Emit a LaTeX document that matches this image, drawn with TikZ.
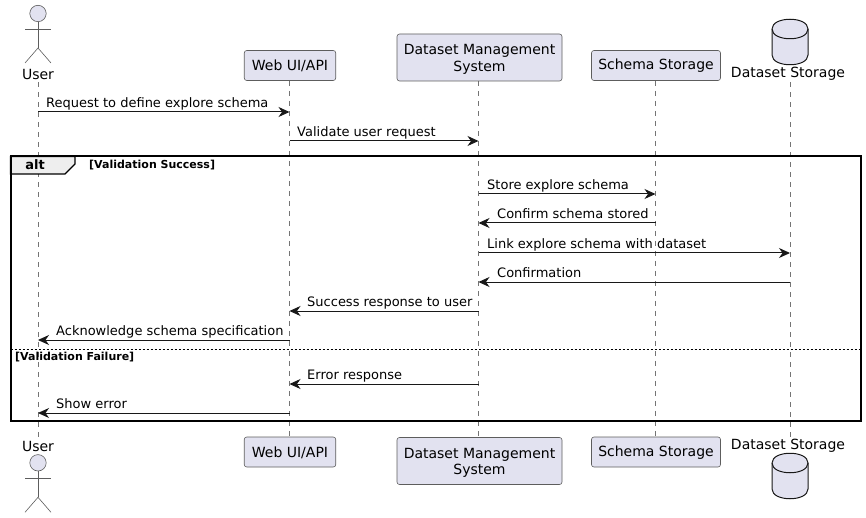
\documentclass[tikz,border=0pt]{standalone}
\usepackage{fontspec}
\setmainfont{DejaVu Sans}
\usetikzlibrary{arrows.meta, positioning, backgrounds}
\definecolor{partfill}{HTML}{E2E2F0}
\definecolor{tabfill}{HTML}{EEEEEE}
\definecolor{edgegray}{HTML}{181818}
\tikzset{
    base/.style={font=\fontsize{14}{16.5}\selectfont, text=black},
    partbox/.style={base, draw=edgegray!70, line width=0.6pt, fill=partfill, rounded corners=2.5pt,
        inner sep=0pt, align=center, minimum height=30pt},
    partlabel/.style={base, inner sep=0pt, minimum height=16pt},
    lifeline/.style={draw=edgegray!60, line width=0.6pt, dash pattern=on 5pt off 5pt},
    msg/.style={draw=edgegray, line width=1pt, -{Stealth[length=11pt, width=10pt, inset=3.5pt]}},
    msgtext/.style={font=\fontsize{13}{15.5}\selectfont, text=black, inner sep=0pt, anchor=base west},
    guard/.style={font=\fontsize{11}{13}\bfseries\selectfont, inner sep=0pt, anchor=base west},
    actorline/.style={draw=edgegray!70, line width=0.6pt},
    dbshape/.style={draw=edgegray, line width=1pt, fill=partfill}
}
\begin{document}
\begin{tikzpicture}[x=1pt, y=-1pt]
    \useasboundingbox (0,0) rectangle (866,518);

    % Top row
    \node[partlabel] (userT) at (38,74) {User};
    \node[partbox, minimum width=91.5pt] (webT) at (290,65.5) {Web UI/API};
    \node[partbox, minimum width=165pt, minimum height=47pt] (dmsT) at (479.5,57.5) {\rule{0pt}{14pt}Dataset Management\\System};
    \node[partbox, minimum width=129pt] (schemaT) at (656,65.5) {Schema Storage};
    \node[partlabel] (storeT) at (788,74) {Dataset Storage};

    % Bottom row
    \node[partlabel] (userB) at (38,446) {User};
    \node[partbox, minimum width=91.5pt] (webB) at (290,452) {\rule{0pt}{12pt}Web UI/API};
    \node[partbox, minimum width=165pt, minimum height=47pt] (dmsB) at (479.5,461) {\rule{0pt}{14pt}Dataset Management\\System};
    \node[partbox, minimum width=129pt] (schemaB) at (656,452) {\rule{0pt}{12pt}Schema Storage};
    \node[partlabel] (storeB) at (788,446) {Dataset Storage};

    % Lifelines
    \coordinate (lineU) at (38,0);
    \coordinate (lineW) at (289.5,0);
    \coordinate (lineD) at (478.5,0);
    \coordinate (lineS) at (655.5,0);
    \coordinate (lineB) at (790,0);
    \begin{scope}[on background layer]
        \draw[lifeline] (lineU |- userT.south) -- (lineU |- userB.north);
        \draw[lifeline] (lineW |- webT.south) -- (lineW |- webB.north);
        \draw[lifeline] (lineD |- dmsT.south) -- (lineD |- dmsB.north);
        \draw[lifeline] (lineS |- schemaT.south) -- (lineS |- schemaB.north);
        \draw[lifeline] (lineB |- storeT.south) -- (lineB |- storeB.north);
    \end{scope}

    % Actor figures
    \foreach \yo in {0, 449.3} {
        \begin{scope}[shift={(38,\yo)}]
            \draw[actorline, fill=partfill] (0,13.5) circle (8.2);
            \draw[actorline] (0,21.7) -- (0,48);
            \draw[actorline] (-13,29) -- (13,29);
            \draw[actorline] (-13,63) -- (0,48) -- (13,63);
        \end{scope}
    }

    % Database figures
    \foreach \yo in {0, 434} {
        \begin{scope}[shift={(790,\yo)}]
            \draw[dbshape] (-18,29) .. controls (-18,16) and (18,16) .. (18,29)
                -- (18,55) .. controls (18,68) and (-18,68) .. (-18,55) -- cycle;
            \draw[dbshape, fill=none] (-18,29) .. controls (-18,42) and (18,42) .. (18,29);
        \end{scope}
    }

    % Frame
    \coordinate (frameTL) at (10.5,156.5);
    \coordinate (frameBR) at (861,421);
    \coordinate (sepL) at (10.5,349);
    \coordinate (sepR) at (861,349);
    \filldraw[fill=tabfill, draw=black, line width=1.2pt] (frameTL) -- (75,156.5) -- (75,164) -- (65,174) -- (10.5,174) -- cycle;
    \draw[black, line width=2pt] (frameTL) rectangle (frameBR);
    \draw[black, line width=0.8pt, dash pattern=on 2pt off 2pt] (sepL) -- (sepR);
    \node[font=\fontsize{13}{15}\bfseries\selectfont, inner sep=0pt] (altlabel) at (35,165) {alt};
    \node[guard] (okguard) at (89,169) {[Validation Success]};
    \node[guard] (failguard) at (15,360) {[Validation Failure]};

    % Messages
    \foreach \y/\from/\to/\xo/\txt in {
        112/lineU/lineW/46/Request to define explore schema,
        141/lineW/lineD/297/Validate user request,
        194/lineD/lineS/487/Store explore schema,
        223/lineS/lineD/497/Confirm schema stored,
        253/lineD/lineB/487/Link explore schema with dataset,
        282/lineB/lineD/497/Confirmation,
        311/lineD/lineW/307/Success response to user,
        340/lineW/lineU/56/Acknowledge schema specification,
        384/lineD/lineW/307/Error response,
        413/lineW/lineU/56/Show error} {
        \coordinate (rowpt) at (0,\y);
        \draw[msg] (\from |- rowpt) -- (\to |- rowpt);
        \node[msgtext] (msgtxt) at (\xo,\y-4.5) {\txt};
    }
\end{tikzpicture}
\end{document}
